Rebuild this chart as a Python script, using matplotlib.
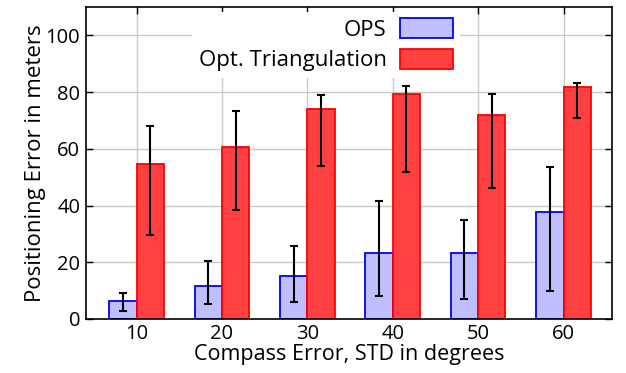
import matplotlib
matplotlib.use("Agg")
import matplotlib.pyplot as plt
import numpy as np

plt.rcParams['font.family'] = ['Open Sans', 'DejaVu Sans']

compass_std = [10, 20, 30, 40, 50, 60]
ops_mean = [6.3, 11.7, 15.0, 23.2, 23.4, 37.8]
ops_low = [2.8, 5.2, 5.8, 8.1, 7.0, 9.9]
ops_high = [9.0, 20.5, 25.8, 41.7, 35.0, 53.6]
tri_mean = [54.5, 60.7, 74.1, 79.3, 72.1, 81.7]
tri_low = [29.7, 38.4, 53.9, 51.9, 46.1, 70.7]
tri_high = [68.0, 73.5, 79.0, 82.0, 79.3, 83.1]
yticks = [0, 20, 40, 60, 80, 100]

fig = plt.figure(figsize=(6.26, 3.73), dpi=100)
ax = fig.add_axes([0.137, 0.145, 0.841, 0.836])

x = np.array(compass_std, dtype=float)
w = 3.2
ops_err = [np.array(ops_mean) - np.array(ops_low), np.array(ops_high) - np.array(ops_mean)]
tri_err = [np.array(tri_mean) - np.array(tri_low), np.array(tri_high) - np.array(tri_mean)]

ax.bar(x - w/2, ops_mean, w, color='#bfbfff', edgecolor='blue', linewidth=1.3,
       label='OPS', zorder=3)
ax.bar(x + w/2, tri_mean, w, color='#ff4040', edgecolor='red', linewidth=1.3,
       label='Opt. Triangulation', zorder=3)
ax.errorbar(x - w/2, ops_mean, yerr=ops_err, fmt='none', ecolor='black',
            elinewidth=1.5, capsize=2.7, capthick=1.5, zorder=4)
ax.errorbar(x + w/2, tri_mean, yerr=tri_err, fmt='none', ecolor='black',
            elinewidth=1.5, capsize=2.7, capthick=1.5, zorder=4)

ax.set_xlim(4.05, 65.7)
ax.set_ylim(0, 110)
ax.set_xticks(compass_std)
ax.set_yticks(yticks)
ax.tick_params(direction='in', top=True, right=True, labelsize=14.5, length=5,
               width=1)
ax.tick_params(axis='x', pad=4)
ax.tick_params(axis='y', pad=4)
ax.grid(True, color='#c8c8c8', linewidth=1, zorder=0)
ax.set_axisbelow(True)
for s in ax.spines.values():
    s.set_linewidth(1.2)
    s.set_zorder(5)

ax.set_xlabel('Compass Error, STD in degrees', fontsize=15.5, labelpad=0)
ax.set_ylabel('Positioning Error in meters', fontsize=16, labelpad=0)

leg = ax.legend(loc='upper right', bbox_to_anchor=(0.711, 0.985), markerfirst=False,
                frameon=True, fontsize=16, handlelength=2.4, handleheight=1.0,
                labelspacing=0.35, borderaxespad=0.0, handletextpad=0.6,
                borderpad=0.3)
leg.get_frame().set_edgecolor('none')
leg.get_frame().set_facecolor('white')
leg.get_frame().set_alpha(1)
leg.set_zorder(6)

fig.savefig('out.png', dpi=100)
